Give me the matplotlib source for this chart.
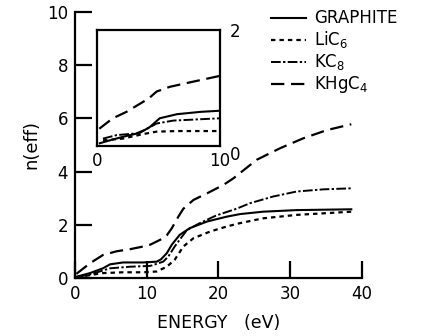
import matplotlib
matplotlib.use("Agg")
import matplotlib.pyplot as plt

# ---------------- data ----------------
# main panel
graphite_E = [0.3, 2.1, 3.9, 4.9, 6.7, 9.5, 11.4, 12.0, 12.8, 13.5, 14.6, 16.0, 18.4, 21.1, 23.0, 26.2, 30.9, 38.5]
graphite_n = [0.05, 0.18, 0.36, 0.51, 0.58, 0.58, 0.61, 0.70, 0.93, 1.25, 1.62, 1.87, 2.12, 2.30, 2.40, 2.49, 2.55, 2.58]

lic6_E = [0.3, 2.0, 3.9, 6.7, 9.5, 11.4, 12.8, 13.9, 15.1, 16.5, 18.8, 21.1, 23.0, 26.2, 30.9, 38.5]
lic6_n = [0.02, 0.10, 0.18, 0.21, 0.21, 0.24, 0.42, 0.68, 1.18, 1.49, 1.74, 1.93, 2.06, 2.24, 2.37, 2.49]

kc8_E = [0.3, 2.0, 4.9, 7.7, 10.5, 12.3, 13.0, 13.9, 15.6, 17.4, 19.7, 22.5, 24.4, 27.6, 30.9, 34.6, 38.5]
kc8_n = [0.03, 0.12, 0.36, 0.42, 0.45, 0.61, 0.80, 1.18, 1.80, 2.06, 2.35, 2.60, 2.81, 3.06, 3.25, 3.33, 3.37]

khgc4_E = [0.2, 2.1, 3.9, 5.8, 7.7, 9.5, 10.5, 11.4, 12.3, 12.8, 13.5, 14.4, 15.1, 16.5, 18.4, 20.7, 22.1, 25.3, 28.6, 31.8, 35.1, 38.5]
khgc4_n = [0.15, 0.55, 0.86, 1.00, 1.08, 1.18, 1.25, 1.37, 1.49, 1.60, 1.87, 2.30, 2.60, 2.93, 3.18, 3.50, 3.75, 4.44, 4.88, 5.25, 5.56, 5.78]

# inset panel (0-10 eV)
in_graphite_E = [0.24, 1.05, 2.1, 3.5, 4.3, 5.1, 6.5, 8.4, 10.0]
in_graphite_n = [0.05, 0.10, 0.16, 0.23, 0.33, 0.48, 0.55, 0.59, 0.61]
in_lic6_E = [0.5, 2.1, 3.8, 4.85, 6.5, 10.0]
in_lic6_n = [0.10, 0.13, 0.21, 0.25, 0.26, 0.26]
in_kc8_E = [0.5, 1.6, 3.2, 4.0, 4.85, 6.2, 8.1, 10.0]
in_kc8_n = [0.13, 0.19, 0.22, 0.29, 0.39, 0.44, 0.46, 0.48]
in_khgc4_E = [0.2, 1.3, 2.4, 3.5, 4.2, 4.85, 5.9, 7.6, 10.0]
in_khgc4_n = [0.30, 0.48, 0.59, 0.73, 0.82, 0.94, 1.02, 1.10, 1.21]

labels = ["GRAPHITE", "LiC$_6$", "KC$_8$", "KHgC$_4$"]
main_xticks = [0, 10, 20, 30, 40]
main_yticks = [0, 2, 4, 6, 8, 10]
inset_xticks = [0, 10]
inset_yticks = [0, 2]

# ---------------- styles ----------------
styles = [
    dict(ls="-", lw=1.5),
    dict(ls=(0, (2.0, 1.8)), lw=1.6),
    dict(ls=(0, (5, 1.2, 1.2, 1.2)), lw=1.4),
    dict(ls=(0, (6, 3)), lw=1.6),
]
black = "black"

plt.rcParams["font.family"] = ["DejaVu Sans"]
fig = plt.figure(figsize=(4.21, 3.36), dpi=100)
ax = fig.add_axes([0.178, 0.173, 0.682, 0.791])

series = [(graphite_E, graphite_n), (lic6_E, lic6_n), (kc8_E, kc8_n), (khgc4_E, khgc4_n)]
handles = []
for (E, n), st, lab in zip(series, styles, labels):
    h, = ax.plot(E, n, color=black, label=lab, **st)
    handles.append(h)

ax.set_xlim(0, 40)
ax.set_ylim(0, 10)
ax.set_xticks(main_xticks)
ax.set_yticks(main_yticks)
for s in ["top", "right"]:
    ax.spines[s].set_visible(False)
for s in ["left", "bottom"]:
    ax.spines[s].set_linewidth(1.6)
ax.tick_params(direction="in", length=12, width=1.6, labelsize=12)
ax.tick_params(axis="x", pad=5)
ax.tick_params(axis="y", pad=5)
ax.set_xlabel("ENERGY   (eV)", fontsize=12.5, labelpad=8)
ax.set_ylabel("n(eff)", fontsize=13, labelpad=5)

leg = ax.legend(handles=handles, loc="upper left", bbox_to_anchor=(0.66, 1.035),
                frameon=False, fontsize=12, handlelength=2.1, handletextpad=0.5,
                labelspacing=0.12, borderaxespad=0)

# inset
axi = fig.add_axes([0.230, 0.565, 0.293, 0.346])
in_series = [(in_graphite_E, in_graphite_n), (in_lic6_E, in_lic6_n),
             (in_kc8_E, in_kc8_n), (in_khgc4_E, in_khgc4_n)]
for (E, n), st in zip(in_series, styles):
    axi.plot(E, n, color=black, **st)
axi.set_xlim(0, 10)
axi.set_ylim(0, 2)
axi.set_xticks(inset_xticks)
axi.set_yticks(inset_yticks)
for s in axi.spines.values():
    s.set_linewidth(1.6)
axi.tick_params(direction="in", length=3, width=1.2, labelsize=12)
axi.tick_params(axis="y", left=True, right=True, labelleft=False, labelright=True, pad=7)
axi.tick_params(axis="x", pad=4)
for t in axi.get_yticklabels():
    if t.get_text() == "0":
        t.set_verticalalignment("top")

fig.savefig("out.png", dpi=100)
